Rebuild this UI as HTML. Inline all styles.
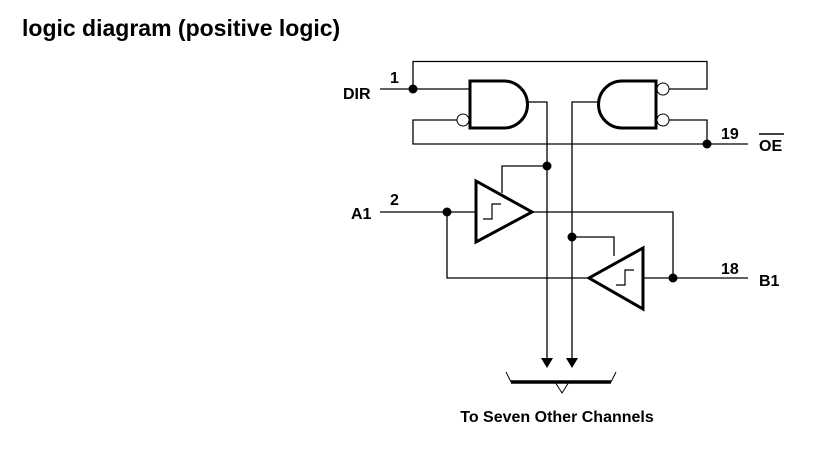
<!DOCTYPE html>
<html><head><style>
html,body{margin:0;padding:0;background:#fff;}
body{width:817px;height:454px;overflow:hidden;}
svg text{font-family:"Liberation Sans",Arial,sans-serif;font-weight:bold;}
</style></head><body>
<svg width="817" height="454" viewBox="0 0 817 454" xmlns="http://www.w3.org/2000/svg">
<text x="22" y="36" font-size="23">logic diagram (positive logic)</text>
<g stroke="#000" stroke-width="1.3" fill="none">
<polyline points="413,89 413,61.5 707,61.5 707,89 668,89"/>
<line x1="380" y1="89" x2="470" y2="89"/>
<polyline points="457,120 413,120 413,144 748,144"/>
<polyline points="668,120 707,120 707,144"/>
<polyline points="527,102 547,102 547,360"/>
<polyline points="599,102 572,102 572,360"/>
<polyline points="547,166 502,166 502,193"/>
<line x1="380" y1="212" x2="476" y2="212"/>
<polyline points="447,212 447,278 589,278"/>
<polyline points="532,212 673,212 673,278"/>
<line x1="643" y1="278" x2="748" y2="278"/>
<polyline points="572,237 614,237 614,256"/>
</g>
<g stroke="#000" stroke-width="3" fill="#fff">
<path d="M470,81 H504 A23.5,23.5 0 0 1 504,128 H470 Z"/>
<path d="M656,81 H622 A23.5,23.5 0 0 0 622,128 H656 Z"/>
<polygon points="476,181 532,212 476,242"/>
<polygon points="643,248 589,278 643,309"/>
</g>
<g stroke="#000" stroke-width="1" fill="#fff">
<circle cx="463" cy="120" r="6"/>
<circle cx="663" cy="89" r="6"/>
<circle cx="663" cy="120" r="6"/>
</g>
<g stroke="#000" stroke-width="1.2" fill="none">
<polyline points="483,219 492,219 492,204 501,204"/>
<polyline points="616,285 625,285 625,270 634,270"/>
</g>
<g fill="#000">
<circle cx="413" cy="89" r="4.5"/>
<circle cx="707" cy="144" r="4.5"/>
<circle cx="547" cy="166" r="4.5"/>
<circle cx="447" cy="212" r="4.5"/>
<circle cx="572" cy="237" r="4.5"/>
<circle cx="673" cy="278" r="4.5"/>
<polygon points="541,358 553,358 547,368"/>
<polygon points="566,358 578,358 572,368"/>
</g>
<line x1="511" y1="382" x2="611" y2="382" stroke="#000" stroke-width="3.5"/>
<g stroke="#000" stroke-width="1" fill="none">
<line x1="511" y1="382" x2="506" y2="372"/>
<line x1="611" y1="382" x2="616" y2="372"/>
<polyline points="555,382 562,393 569,382"/>
</g>
<g font-size="16">
<text x="343" y="99">DIR</text>
<text x="390" y="83">1</text>
<text x="351" y="219">A1</text>
<text x="390" y="205">2</text>
<text x="721" y="139">19</text>
<text x="759" y="151">OE</text>
<text x="721" y="274">18</text>
<text x="759" y="286">B1</text>
<text x="557" y="422" text-anchor="middle">To Seven Other Channels</text>
</g>
<line x1="759" y1="134" x2="784" y2="134" stroke="#000" stroke-width="1.5"/>
</svg>
</body></html>
